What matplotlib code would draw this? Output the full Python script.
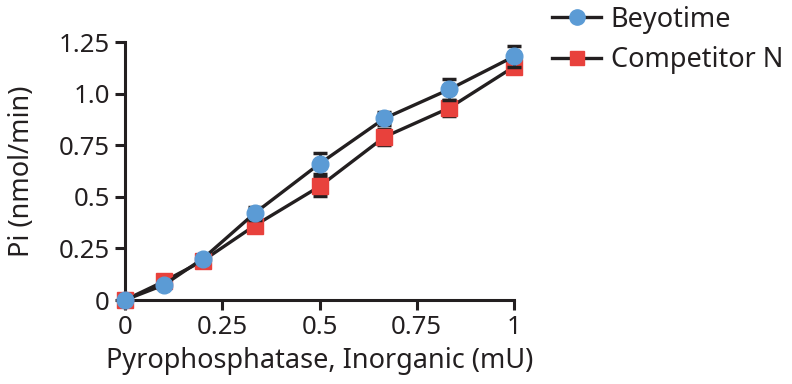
import matplotlib
matplotlib.use("Agg")
import matplotlib.pyplot as plt
from matplotlib.lines import Line2D

plt.rcParams['font.family'] = ['Noto Sans', 'DejaVu Sans']

x = [0, 0.1, 0.2, 0.333, 0.5, 0.667, 0.833, 1.0]
beyotime = [0, 0.073, 0.20, 0.42, 0.66, 0.88, 1.02, 1.18]
beyotime_err = [0, 0.01, 0.02, 0.03, 0.05, 0.03, 0.05, 0.05]
competitor = [0, 0.09, 0.19, 0.36, 0.55, 0.79, 0.93, 1.13]
competitor_err = [0, 0.01, 0.02, 0.03, 0.045, 0.04, 0.04, 0.03]

xticks = [0, 0.25, 0.5, 0.75, 1]
xticklabels = ['0', '0.25', '0.5', '0.75', '1']
yticks = [0, 0.25, 0.5, 0.75, 1.0, 1.25]
yticklabels = ['0', '0.25', '0.5', '0.75', '1.0', '1.25']

blue = '#5b9bd5'
red = '#e8413c'
line_col = '#231f20'

fig = plt.figure(figsize=(7.92, 3.84), dpi=100)
ax = fig.add_axes([125/792, 1-300/384, (514-125)/792, (300-42)/384])

ax.errorbar(x, competitor, yerr=competitor_err, color=line_col, lw=2.4,
            marker='s', ms=11, mfc=red, mec=red, ecolor=line_col,
            elinewidth=2, capsize=5, capthick=2.5, clip_on=False, zorder=3)
ax.errorbar(x, beyotime, yerr=beyotime_err, color=line_col, lw=2.4,
            marker='o', ms=12, mfc=blue, mec=blue, ecolor=line_col,
            elinewidth=2, capsize=5, capthick=2.5, clip_on=False, zorder=4)

ax.set_xlim(0, 1)
ax.set_ylim(0, 1.25)
ax.set_xticks(xticks)
ax.set_xticklabels(xticklabels)
ax.set_yticks(yticks)
ax.set_yticklabels(yticklabels)
for s in ['top', 'right']:
    ax.spines[s].set_visible(False)
for s in ['left', 'bottom']:
    ax.spines[s].set_linewidth(2.2)
    ax.spines[s].set_color(line_col)
ax.tick_params(direction='out', length=7, width=2.2, color=line_col,
               labelsize=18.5, pad=4, labelcolor=line_col)
ax.set_xlabel('Pyrophosphatase, Inorganic (mU)', fontsize=19.5, labelpad=5, color=line_col)
ax.set_ylabel('Pi (nmol/min)', fontsize=19.5, labelpad=16, color=line_col)

handles = [
    Line2D([], [], color=line_col, lw=2.4, marker='o', ms=11, mfc=blue, mec=blue),
    Line2D([], [], color=line_col, lw=2.4, marker='s', ms=10.5, mfc=red, mec=red),
]
labels = ['Beyotime', 'Competitor N']
leg = fig.legend(handles, labels, loc='upper left', bbox_to_anchor=(528/792, 1.048),
                 frameon=False, fontsize=19.5, handlelength=1.8, handletextpad=0.35,
                 labelspacing=0.45, labelcolor=line_col)

fig.savefig('out.png', dpi=100)
